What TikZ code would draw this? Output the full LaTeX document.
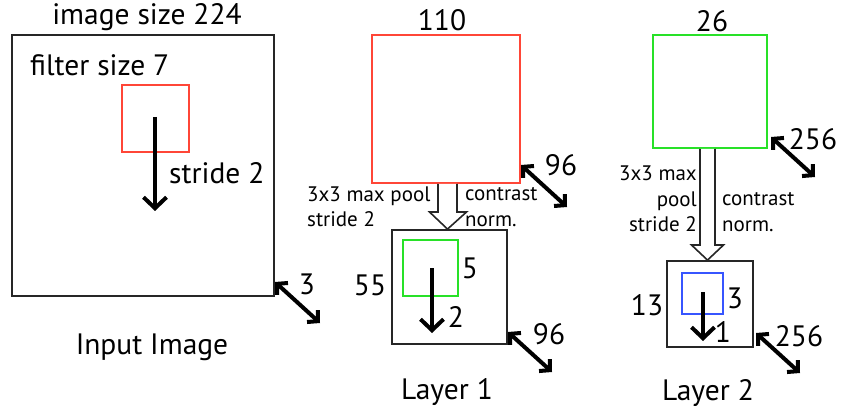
\documentclass[tikz,border=0pt]{standalone}
\usepackage{fontspec}
\setmainfont{PT Sans}
\usetikzlibrary{arrows.meta,calc}
\definecolor{fred}{RGB}{255,70,55}
\definecolor{fgreen}{RGB}{40,225,40}
\definecolor{fblue}{RGB}{55,85,255}
\tikzset{
  box/.style={draw=black!85,line width=1.8pt,inner sep=0pt,minimum width=#1,minimum height=#1},
  fbox/.style={draw=#1,line width=1.6pt,inner sep=0pt},
  big/.style={font=\fontsize{29.5}{32}\selectfont,inner sep=0pt},
  small/.style={font=\fontsize{21}{25.5}\selectfont,inner sep=0pt,align=left},
  stridearrow/.style={line width=4pt,-{Straight Barb[length=11pt,width=23pt]}},
  dbl/.style={line width=4pt,{Straight Barb[length=7.5pt,width=16pt]}-{Straight Barb[length=7.5pt,width=16pt]}},
  hollow/.style={draw=black!85,line width=1.6pt,fill=white,line join=miter}
}
\begin{document}
\begin{tikzpicture}[x=1pt,y=-1pt]
\useasboundingbox (0,0) rectangle (844,417);
% ---------- Input image ----------
\node[box, minimum width=262pt, minimum height=261pt] (in) at (143,165.5) {};
\node[fbox=fred, minimum width=67pt, minimum height=67pt] (f1) at (155.5,118.5) {};
\node[big] (insize) at (147,17) {image size 224};
\node[big, anchor=west] (fsize) at (30,65) {filter size 7};
\coordinate (s1a) at (155,117);
\coordinate (s1b) at (155,211);
\draw[stridearrow] (s1a) -- (s1b);
\node[big, anchor=west] (st1) at (169,173) {stride 2};
\coordinate (d0a) at (275,282);
\coordinate (d0b) at (320,323);
\draw[dbl] (d0a) -- (d0b);
\node[big] (n3) at (307,284) {3};
\node[big] (inlab) at (152,347) {Input Image};
% ---------- Layer 1 ----------
\node[box, draw=fred, line width=1.6pt, minimum width=148pt, minimum height=148pt] (r1) at (446,109) {};
\node[big] (n110) at (442,20) {110};
\coordinate (d1a) at (521,165);
\coordinate (d1b) at (567,207);
\draw[dbl] (d1a) -- (d1b);
\node[big] (n96a) at (561,165) {96};
\node[box, minimum width=115pt, minimum height=114pt] (l1) at (449.5,287) {};
\draw[hollow] (438,0 |- r1.south) -- (438,212) -- (429.5,212) -- (447.5,0 |- l1.north)
  -- (466.5,212) -- (457,212) -- (457,0 |- r1.south);
\node[small, anchor=west] (mp1) at (307,207) {3x3 max pool\\stride 2};
\node[small, anchor=west] (cn1) at (465,207) {contrast\\norm.};
\node[fbox=fgreen, minimum width=55pt, minimum height=56pt] (g1) at (430.5,268) {};
\coordinate (s2a) at (432,268);
\coordinate (s2b) at (432,333);
\draw[stridearrow] (s2a) -- (s2b);
\node[big] (n5) at (470,268) {5};
\node[big] (n2) at (456,317) {2};
\node[big] (n55) at (370,285) {55};
\coordinate (d2a) at (508,332);
\coordinate (d2b) at (552,372);
\draw[dbl] (d2a) -- (d2b);
\node[big] (n96b) at (549,334) {96};
\node[big] (l1lab) at (447,392) {Layer 1};
% ---------- Layer 2 ----------
\node[box, draw=fgreen, line width=1.6pt, minimum width=114pt, minimum height=113pt] (r2) at (710,91.5) {};
\node[big] (n26) at (712,21) {26};
\coordinate (d3a) at (771,137);
\coordinate (d3b) at (815,177);
\draw[dbl] (d3a) -- (d3b);
\node[big] (n256a) at (813,139) {256};
\node[box, minimum width=86pt, minimum height=86pt] (l2) at (710,304) {};
\draw[hollow] (700,0 |- r2.south) -- (700,245) -- (691.5,245) -- (707.5,0 |- l2.north)
  -- (723.5,245) -- (715,245) -- (715,0 |- r2.south);
\node[small, anchor=east, align=right] (mp2) at (697,199) {3x3 max\\pool\\stride 2};
\node[small, anchor=west] (cn2) at (722,212) {contrast\\norm.};
\node[fbox=fblue, minimum width=41pt, minimum height=41pt] (b2) at (702.5,293.5) {};
\coordinate (s3a) at (703,292);
\coordinate (s3b) at (703,341);
\draw[stridearrow] (s3a) -- (s3b);
\node[big] (n3b) at (735,298) {3};
\node[big] (n1) at (723,332) {1};
\node[big] (n13) at (647,305) {13};
\coordinate (d4a) at (756,333);
\coordinate (d4b) at (800,373);
\draw[dbl] (d4a) -- (d4b);
\node[big] (n256b) at (799,336) {256};
\node[big] (l2lab) at (708,393) {Layer 2};
\end{tikzpicture}
\end{document}
